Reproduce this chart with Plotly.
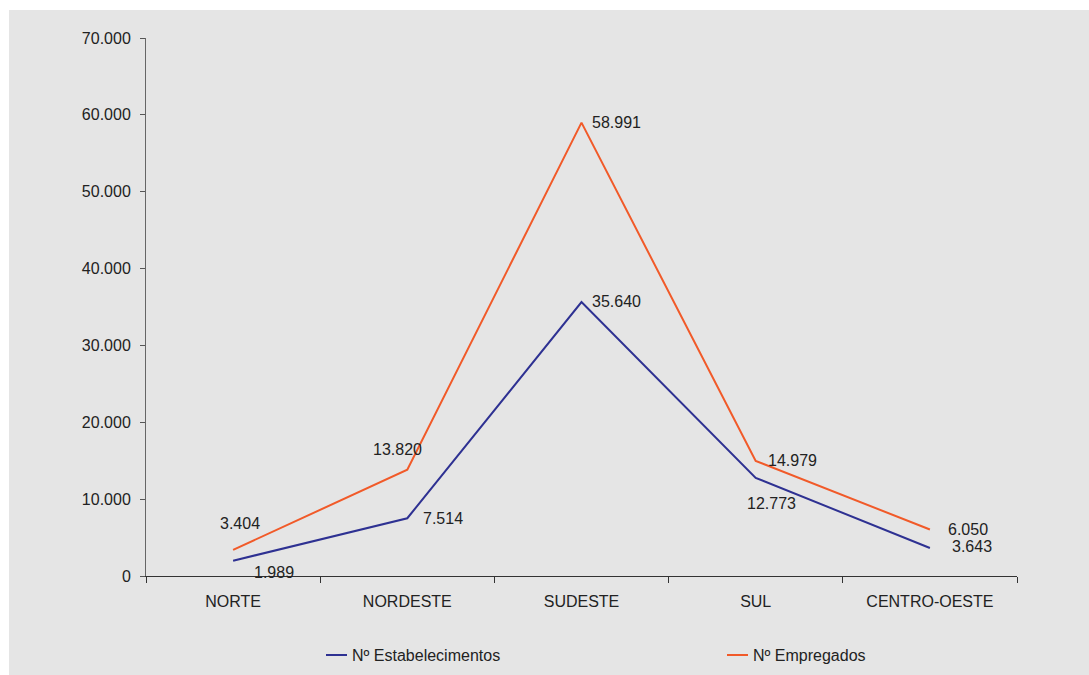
import plotly.graph_objects as go

regioes = ["NORTE", "NORDESTE", "SUDESTE", "SUL", "CENTRO-OESTE"]
estabelecimentos = [1989, 7514, 35640, 12773, 3643]
empregados = [3404, 13820, 58991, 14979, 6050]

AZUL = "#2E3192"
LARANJA = "#F15A29"
CINZA = "#E5E5E5"
TEXTO = "#222222"
FONTE = "Liberation Sans, Arial, sans-serif"

W, H = 1089, 675
ML, MR, MT, MB = 146, 72, 38, 99
PW, PH = W - ML - MR, H - MT - MB


def px_x(px):
    return (px - ML) / PW


def px_y(py):
    return (H - MB - py) / PH


fig = go.Figure()
fig.add_trace(go.Scatter(x=regioes, y=estabelecimentos, mode="lines",
                         line=dict(color=AZUL, width=2), name="Nº Estabelecimentos",
                         showlegend=False))
fig.add_trace(go.Scatter(x=regioes, y=empregados, mode="lines",
                         line=dict(color=LARANJA, width=2), name="Nº Empregados",
                         showlegend=False))


def fmt(v):
    return f"{v:,}".replace(",", ".")


# label offsets (pixels) for each point
desloc_emp = [(7, 26), (-10, 20), (35, 0), (37, 0), (38, 0)]
desloc_est = [(41, -12), (36, 0), (35, 1), (16, -26), (42, 2)]

annotations = []
for serie, desloc in ((empregados, desloc_emp), (estabelecimentos, desloc_est)):
    for reg, v, (dx, dy) in zip(regioes, serie, desloc):
        annotations.append(dict(x=reg, y=v, xref="x", yref="y", text=fmt(v),
                                showarrow=False, xshift=dx, yshift=dy,
                                font=dict(size=16, color=TEXTO, family=FONTE)))

# legend drawn below the axis
shapes = [
    # white border strips around the gray panel
    dict(type="rect", xref="paper", yref="paper", x0=px_x(-5), x1=px_x(W + 5),
         y0=px_y(10), y1=px_y(-5), fillcolor="white", line=dict(width=0), layer="below"),
    dict(type="rect", xref="paper", yref="paper", x0=px_x(-5), x1=px_x(9),
         y0=px_y(H + 5), y1=px_y(-5), fillcolor="white", line=dict(width=0), layer="below"),
    dict(type="line", xref="paper", yref="paper", x0=px_x(326), x1=px_x(347),
         y0=px_y(655), y1=px_y(655), line=dict(color=AZUL, width=2)),
    dict(type="line", xref="paper", yref="paper", x0=px_x(727), x1=px_x(748),
         y0=px_y(655), y1=px_y(655), line=dict(color=LARANJA, width=2)),
]
annotations += [
    dict(x=px_x(350), y=px_y(655), xref="paper", yref="paper", text="Nº Estabelecimentos",
         showarrow=False, xanchor="left", yanchor="middle",
         font=dict(size=16, color=TEXTO, family=FONTE)),
    dict(x=px_x(751), y=px_y(655), xref="paper", yref="paper", text="Nº Empregados",
         showarrow=False, xanchor="left", yanchor="middle",
         font=dict(size=16, color=TEXTO, family=FONTE)),
]

fig.update_layout(
    width=W, height=H,
    margin=dict(l=ML, r=MR, t=MT, b=MB),
    paper_bgcolor=CINZA, plot_bgcolor=CINZA,
    separators=",.",
    font=dict(family=FONTE, size=16, color=TEXTO),
    shapes=shapes, annotations=annotations,
    showlegend=False,
    xaxis=dict(type="category", range=[-0.5, 4.5], tickson="boundaries",
               ticks="outside", ticklen=6, tickcolor="#333", showline=True,
               linecolor="#333", linewidth=1, showgrid=False, zeroline=False,
               ticklabelstandoff=11,
               tickfont=dict(size=16, color=TEXTO)),
    yaxis=dict(range=[0, 70000], dtick=10000, tickformat=",d", ticks="outside",
               ticklen=5, tickcolor="#555", showline=True, linecolor="#666",
               linewidth=1, showgrid=False, zeroline=False,
               ticklabelstandoff=6,
               tickfont=dict(size=16, color=TEXTO)),
)

fig.write_html("out.html")
